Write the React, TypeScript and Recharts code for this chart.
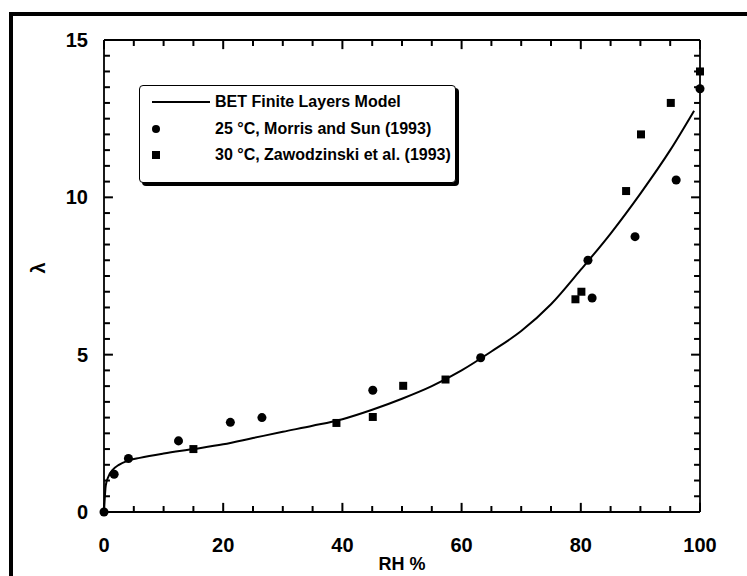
import { ComposedChart, Line, Scatter, XAxis, YAxis, ZAxis, Legend, ReferenceLine } from 'recharts';

const FONT = '"Liberation Sans", Arial, Helvetica, sans-serif';

// BET finite layers model curve (RH %, lambda)
const modelRh = [0, 0.3, 0.8, 1.5, 2.5, 4, 6, 10, 15, 20, 25, 30, 35, 40, 45, 50, 55, 60, 65, 70, 75, 80, 85, 90, 95, 99];
const modelLambda = [0, 0.85, 1.15, 1.35, 1.5, 1.63, 1.72, 1.86, 2.0, 2.15, 2.35, 2.55, 2.74, 2.95, 3.25, 3.6, 4.0, 4.5, 5.1, 5.75, 6.6, 7.7, 8.85, 10.12, 11.5, 12.75];

// 25 °C, Morris and Sun (1993) — circles
const morrisRh = [0, 1.7, 4.1, 12.5, 21.2, 26.5, 45.1, 63.2, 81.2, 81.9, 89.1, 96, 100];
const morrisLambda = [0, 1.2, 1.7, 2.26, 2.85, 3.0, 3.87, 4.9, 8.0, 6.8, 8.75, 10.55, 13.45];

// 30 °C, Zawodzinski et al. (1993) — squares
const zawRh = [15, 39, 45.1, 50.2, 57.3, 79.1, 80.1, 87.6, 90.1, 95.1, 100];
const zawLambda = [2.0, 2.83, 3.02, 4.01, 4.21, 6.76, 7.0, 10.2, 12.0, 13.0, 14.0];

const seriesNames = [
  'BET Finite Layers Model',
  '25 \u00B0C, Morris and Sun (1993)',
  '30 \u00B0C, Zawodzinski et al. (1993)',
];

// inward tick marks; the labelled ones get a longer mark
const xTicks = [0, 5, 10, 15, 20, 25, 30, 35, 40, 45, 50, 55, 60, 65, 70, 75, 80, 85, 90, 95, 100];
const xLabels = [0, 20, 40, 60, 80, 100];
const yTicks = [0, 0.5, 1, 1.5, 2, 2.5, 3, 3.5, 4, 4.5, 5, 5.5, 6, 6.5, 7, 7.5, 8, 8.5, 9, 9.5, 10, 10.5, 11, 11.5, 12, 12.5, 13, 13.5, 14, 14.5, 15];
const yLabels = [0, 5, 10, 15];

const X_MIN = 0;
const X_MAX = 100;
const Y_MIN = 0;
const Y_MAX = 15;

// mark lengths in data units (about 6 px minor, 9 px major)
const X_MARK = { minor: 0.19, major: 0.29 }; // lambda units, marks on the bottom/top edges
const Y_MARK = { minor: 1.0, major: 1.5 }; // RH units, marks on the left/right edges
const MARK_WIDTH = 2;

const toRows = (xs: number[], ys: number[]) => xs.map((x, i) => ({ rh: x, lambda: ys[i] }));

const modelRows = toRows(modelRh, modelLambda);
const morrisRows = toRows(morrisRh, morrisLambda);
const zawRows = toRows(zawRh, zawLambda);

function BottomLabel({ x, y, payload }: any) {
  if (!xLabels.includes(payload.value)) return <g />;
  return (
    <text x={x} y={y + 40} textAnchor="middle" fontSize={20} fontWeight="bold" fontFamily={FONT} fill="#000">
      {payload.value}
    </text>
  );
}

function LeftLabel({ x, y, payload }: any) {
  if (!yLabels.includes(payload.value)) return <g />;
  return (
    <text x={x - 16} y={y + 7} textAnchor="end" fontSize={20} fontWeight="bold" fontFamily={FONT} fill="#000">
      {payload.value}
    </text>
  );
}

function LambdaTitle({ viewBox }: any) {
  const cx = viewBox.x - 6;
  const cy = viewBox.y + viewBox.height / 2 - 8;
  return (
    <text
      x={cx}
      y={cy}
      transform={`rotate(-90 ${cx} ${cy})`}
      textAnchor="middle"
      dominantBaseline="central"
      fontSize={20}
      fontWeight="bold"
      fontFamily={FONT}
      fill="#000"
    >
      λ
    </text>
  );
}

function RhTitle({ viewBox }: any) {
  const cx = viewBox.x + viewBox.width / 2;
  return (
    <text x={cx} y={viewBox.y + 58} textAnchor="middle" fontSize={18} fontWeight="bold" fontFamily={FONT} fill="#000">
      RH %
    </text>
  );
}

function LegendMarker({ type }: { type: string }) {
  return (
    <svg width={60} height={12} style={{ display: 'block' }}>
      {type === 'line' && <line x1={0} x2={58} y1={6} y2={6} stroke="#000" strokeWidth={2} />}
      {type === 'circle' && <circle cx={4} cy={6} r={4} fill="#000" />}
      {type === 'square' && <rect x={0} y={2} width={8} height={8} fill="#000" />}
    </svg>
  );
}

function BoxLegend({ payload }: any) {
  const items = (payload || [])
    .filter((p: any) => seriesNames.includes(p.value))
    .sort((a: any, b: any) => seriesNames.indexOf(a.value) - seriesNames.indexOf(b.value));
  return (
    <div
      style={{
        width: 317,
        height: 98,
        boxSizing: 'border-box',
        border: '1.5px solid #000',
        borderRadius: 4,
        boxShadow: '3px 3px 0 #000',
        background: '#fff',
        paddingTop: 3,
        paddingLeft: 12,
      }}
    >
      {items.map((p: any) => (
        <div key={p.value} style={{ display: 'flex', alignItems: 'center', height: 26.5 }}>
          <LegendMarker type={p.type} />
          <span style={{ fontFamily: FONT, fontWeight: 'bold', fontSize: 16, color: '#000', marginLeft: 3, whiteSpace: 'nowrap' }}>
            {p.value}
          </span>
        </div>
      ))}
    </div>
  );
}

export default function App() {
  return (
    <div style={{ position: 'absolute', left: 0, top: 0, width: 747, height: 576, overflow: 'hidden', background: '#fff' }}>
      <ComposedChart width={747} height={576} margin={{ top: 40, right: 47, bottom: 14, left: 44 }}>
        <ZAxis range={[64, 64]} />
        <XAxis
          type="number"
          dataKey="rh"
          domain={[X_MIN, X_MAX]}
          ticks={xTicks}
          interval={0}
          tickSize={0}
          tickMargin={0}
          tickLine={false}
          tick={<BottomLabel />}
          height={50}
          stroke="#000"
          axisLine={{ stroke: '#000', strokeWidth: 1.8 }}
          label={<RhTitle />}
        />
        <YAxis
          type="number"
          dataKey="lambda"
          domain={[Y_MIN, Y_MAX]}
          ticks={yTicks}
          interval={0}
          tickSize={0}
          tickMargin={0}
          tickLine={false}
          tick={<LeftLabel />}
          width={60}
          stroke="#000"
          axisLine={{ stroke: '#000', strokeWidth: 1.8 }}
          label={<LambdaTitle />}
        />
        {/* top and right edges of the box */}
        <ReferenceLine y={Y_MAX} stroke="#000" strokeWidth={1.8} ifOverflow="visible" />
        <ReferenceLine x={X_MAX} stroke="#000" strokeWidth={1.8} ifOverflow="visible" />
        {/* inward tick marks on all four edges */}
        {xTicks.map((v) => (
          <ReferenceLine
            key={`b${v}`}
            segment={[{ x: v, y: Y_MIN }, { x: v, y: Y_MIN + (xLabels.includes(v) ? X_MARK.major : X_MARK.minor) }]}
            stroke="#000"
            strokeWidth={MARK_WIDTH}
            ifOverflow="visible"
          />
        ))}
        {xTicks.map((v) => (
          <ReferenceLine
            key={`t${v}`}
            segment={[{ x: v, y: Y_MAX }, { x: v, y: Y_MAX - (xLabels.includes(v) ? X_MARK.major : X_MARK.minor) }]}
            stroke="#000"
            strokeWidth={MARK_WIDTH}
            ifOverflow="visible"
          />
        ))}
        {yTicks.map((v) => (
          <ReferenceLine
            key={`l${v}`}
            segment={[{ x: X_MIN, y: v }, { x: X_MIN + (yLabels.includes(v) ? Y_MARK.major : Y_MARK.minor), y: v }]}
            stroke="#000"
            strokeWidth={MARK_WIDTH}
            ifOverflow="visible"
          />
        ))}
        {yTicks.map((v) => (
          <ReferenceLine
            key={`r${v}`}
            segment={[{ x: X_MAX, y: v }, { x: X_MAX - (yLabels.includes(v) ? Y_MARK.major : Y_MARK.minor), y: v }]}
            stroke="#000"
            strokeWidth={MARK_WIDTH}
            ifOverflow="visible"
          />
        ))}
        <Legend
          layout="vertical"
          align="center"
          verticalAlign="middle"
          content={<BoxLegend />}
          wrapperStyle={{ left: 139, top: 85, width: 'auto' }}
        />
        <Line
          data={modelRows}
          dataKey="lambda"
          name={seriesNames[0]}
          type="monotone"
          stroke="#000"
          strokeWidth={2}
          dot={false}
          legendType="line"
          isAnimationActive={false}
        />
        <Scatter data={morrisRows} dataKey="lambda" name={seriesNames[1]} shape="circle" fill="#000" legendType="circle" isAnimationActive={false} />
        <Scatter data={zawRows} dataKey="lambda" name={seriesNames[2]} shape="square" fill="#000" legendType="square" isAnimationActive={false} />
      </ComposedChart>
      {/* heavy outer frame, clipped at the right and bottom like the scan */}
      <div
        style={{
          position: 'absolute',
          left: 9,
          top: 12,
          width: 800,
          height: 700,
          boxSizing: 'border-box',
          borderTop: '4px solid #000',
          borderLeft: '4px solid #000',
          pointerEvents: 'none',
        }}
      />
    </div>
  );
}
